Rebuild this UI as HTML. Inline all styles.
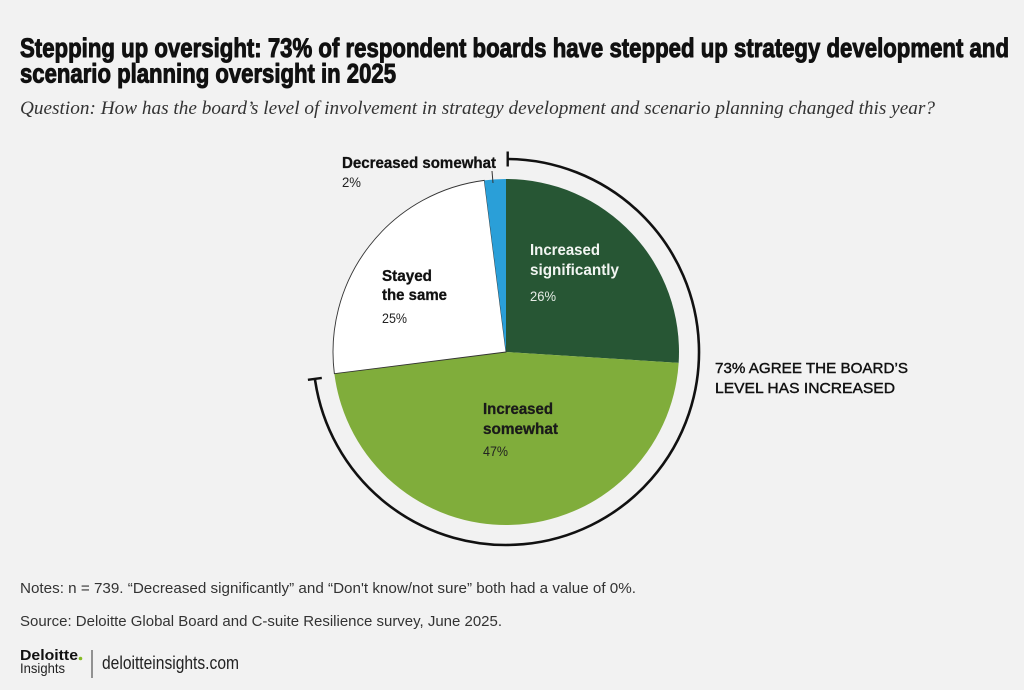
<!DOCTYPE html>
<html>
<head>
<meta charset="utf-8">
<style>
  html, body { margin:0; padding:0; background:#f2f2f2; }
  svg { display:block; }
  .t { font-family: "Liberation Sans", sans-serif; }
</style>
</head>
<body>
<svg width="1024" height="690" viewBox="0 0 1024 690" xmlns="http://www.w3.org/2000/svg">
  <rect x="0" y="0" width="1024" height="690" fill="#f2f2f2"/>

  <!-- Title -->
  <text class="t" x="20" y="57" font-size="27" font-weight="bold" fill="#111" stroke="#111" stroke-width="1" stroke-linejoin="round" textLength="989" lengthAdjust="spacingAndGlyphs">Stepping up oversight: 73% of respondent boards have stepped up strategy development and</text>
  <text class="t" x="20" y="82.5" font-size="27" font-weight="bold" fill="#111" stroke="#111" stroke-width="1" stroke-linejoin="round" textLength="376" lengthAdjust="spacingAndGlyphs">scenario planning oversight in 2025</text>
  <text x="20" y="114" font-family="'Liberation Serif', serif" font-style="italic" font-size="19" fill="#333" textLength="915" lengthAdjust="spacingAndGlyphs">Question: How has the board’s level of involvement in strategy development and scenario planning changed this year?</text>

  <!-- Pie -->
  <path d="M506,352 L506,179 A173,173 0 0,1 678.66,362.86 Z" fill="#275634"/>
  <path d="M506,352 L678.66,362.86 A173,173 0 0,1 334.37,373.68 Z" fill="#80ad3b"/>
  <path d="M506,352 L334.37,373.68 A173,173 0 0,1 484.32,180.37 Z" fill="#ffffff" stroke="#333" stroke-width="0.9"/>
  <path d="M506,352 L484.32,180.37 A173,173 0 0,1 506,179 Z" fill="#2a9fd8"/>

  <!-- Arc annotation -->
  <path d="M507.7,159 A193,193 0 1,1 314.9,378.9" fill="none" stroke="#111" stroke-width="2.6"/>
  <line x1="507.7" y1="151.5" x2="507.7" y2="166.5" stroke="#111" stroke-width="2.4"/>
  <line x1="321.8" y1="377.9" x2="307.9" y2="379.8" stroke="#111" stroke-width="2.4"/>

  <!-- Leader line -->
  <line x1="492" y1="171" x2="493" y2="183" stroke="#333" stroke-width="1"/>

  <!-- Labels -->
  <text class="t" x="342" y="168" font-size="16" font-weight="bold" fill="#111" stroke="#111" stroke-width="0.3" textLength="154" lengthAdjust="spacingAndGlyphs">Decreased somewhat</text>
  <text class="t" x="342" y="187" font-size="13.5" fill="#222" textLength="19" lengthAdjust="spacingAndGlyphs">2%</text>

  <text class="t" x="382" y="281" font-size="16" font-weight="bold" fill="#111" stroke="#111" stroke-width="0.3" textLength="50" lengthAdjust="spacingAndGlyphs">Stayed</text>
  <text class="t" x="382" y="300" font-size="16" font-weight="bold" fill="#111" stroke="#111" stroke-width="0.3" textLength="65" lengthAdjust="spacingAndGlyphs">the same</text>
  <text class="t" x="382" y="323" font-size="14" fill="#222" textLength="25" lengthAdjust="spacingAndGlyphs">25%</text>

  <text class="t" x="530" y="255" font-size="16" font-weight="bold" fill="#f2f5f2" textLength="70" lengthAdjust="spacingAndGlyphs">Increased</text>
  <text class="t" x="530" y="275" font-size="16" font-weight="bold" fill="#f2f5f2" textLength="89" lengthAdjust="spacingAndGlyphs">significantly</text>
  <text class="t" x="530" y="301" font-size="14" fill="#e6ece6" textLength="26" lengthAdjust="spacingAndGlyphs">26%</text>

  <text class="t" x="483" y="414" font-size="16" font-weight="bold" fill="#1a1a1a" stroke="#1a1a1a" stroke-width="0.3" textLength="70" lengthAdjust="spacingAndGlyphs">Increased</text>
  <text class="t" x="483" y="434" font-size="16" font-weight="bold" fill="#1a1a1a" stroke="#1a1a1a" stroke-width="0.3" textLength="75" lengthAdjust="spacingAndGlyphs">somewhat</text>
  <text class="t" x="483" y="456" font-size="14" fill="#222" textLength="25" lengthAdjust="spacingAndGlyphs">47%</text>

  <!-- Handwritten annotation -->
  <text class="t" x="715" y="373" font-size="15" fill="#111" stroke="#111" stroke-width="0.4" textLength="193" lengthAdjust="spacingAndGlyphs">73% AGREE THE BOARD’S</text>
  <text class="t" x="715" y="393" font-size="15" fill="#111" stroke="#111" stroke-width="0.4" textLength="180" lengthAdjust="spacingAndGlyphs">LEVEL HAS INCREASED</text>

  <!-- Notes -->
  <text class="t" x="20" y="593" font-size="15" fill="#333" textLength="616" lengthAdjust="spacingAndGlyphs">Notes: n = 739. “Decreased significantly” and “Don't know/not sure” both had a value of 0%.</text>
  <text class="t" x="20" y="626" font-size="15" fill="#333" textLength="482" lengthAdjust="spacingAndGlyphs">Source: Deloitte Global Board and C-suite Resilience survey, June 2025.</text>

  <!-- Logo -->
  <text class="t" x="20" y="660" font-size="15" font-weight="bold" fill="#111" textLength="58" lengthAdjust="spacingAndGlyphs">Deloitte</text>
  <circle cx="80.5" cy="658.5" r="1.8" fill="#86bc25"/>
  <text class="t" x="20" y="673" font-size="14" fill="#222" textLength="45" lengthAdjust="spacingAndGlyphs">Insights</text>
  <line x1="92" y1="650" x2="92" y2="678" stroke="#333" stroke-width="1"/>
  <text class="t" x="102" y="669" font-size="18" fill="#222" textLength="137" lengthAdjust="spacingAndGlyphs">deloitteinsights.com</text>
</svg>
</body>
</html>
